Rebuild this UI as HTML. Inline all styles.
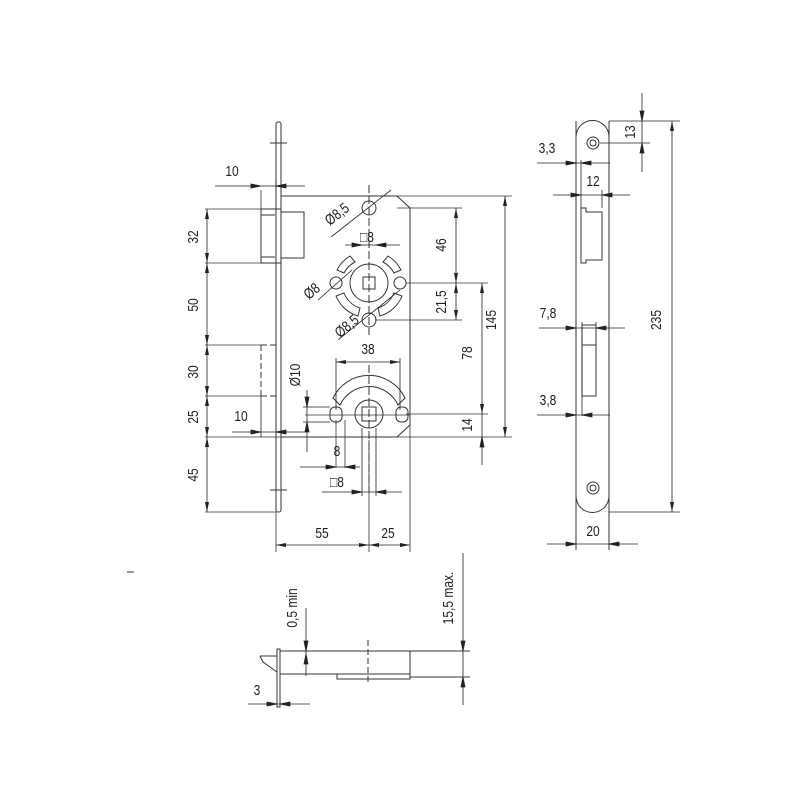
<!DOCTYPE html>
<html><head><meta charset="utf-8"><style>
html,body{margin:0;padding:0;background:#fff;}
svg{display:block}
text{font-family:"Liberation Sans",sans-serif;font-size:15px;fill:#222}
</style></head><body>
<svg width="800" height="800" viewBox="0 0 800 800" xmlns="http://www.w3.org/2000/svg">
<defs>
<marker id="a" viewBox="0 0 10 6" refX="10" refY="3" markerWidth="10" markerHeight="6" orient="auto-start-reverse" markerUnits="userSpaceOnUse"><path d="M0,1 L10,3 L0,5 Z" fill="#222"/></marker>
</defs>
<g stroke="#333" stroke-width="1" fill="none">
<rect x="276" y="122" width="5" height="390" rx="2"/>
<line x1="270" y1="143" x2="287" y2="143"/><line x1="270" y1="490" x2="287" y2="490"/>
<path d="M281,196 H397 L410,208 V425 L397,437 H281"/>
<rect x="261" y="209" width="20" height="54"/>
<rect x="281" y="212" width="23" height="46"/>
<line x1="261" y1="215" x2="275" y2="215"/><line x1="261" y1="257" x2="275" y2="257"/>
<path d="M261,345 V396 M261,345 H276 M261,396 H276" stroke-dasharray="6,3"/>
<line x1="276" y1="345" x2="276" y2="396"/>
<circle cx="369" cy="283" r="19"/>
<rect x="363" y="277" width="12" height="12"/>
<circle cx="336" cy="283" r="6"/><circle cx="400" cy="283" r="6"/>
<circle cx="369" cy="320" r="7"/><circle cx="369" cy="208" r="7"/>
<path d="M337,270 A34,34 0 0 1 350,256 L355,262 A26,26 0 0 0 344,273 Z"/>
<path d="M401,270 A34,34 0 0 0 388,256 L383,262 A26,26 0 0 1 394,273 Z"/>
<path d="M336,296 A34,34 0 0 0 358,316 L360,308 A26,26 0 0 1 344,293 Z"/>
<path d="M402,296 A34,34 0 0 1 380,316 L378,308 A26,26 0 0 0 394,293 Z"/>
<line x1="369" y1="185" x2="369" y2="335" stroke-dasharray="8,3"/>
<circle cx="369" cy="414" r="14"/>
<rect x="362" y="407" width="14" height="14"/>
<rect x="330" y="407" width="12" height="15" rx="5"/><rect x="396" y="407" width="12" height="15" rx="5"/>
<path d="M333,398 A40,40 0 0 1 405,398 L398,405 A32,32 0 0 0 340,405 Z"/>
<line x1="369" y1="365" x2="369" y2="492" stroke-dasharray="8,3"/>
<path d="M576,137 A16,16 0 0 1 609,137 V496 A16,16 0 0 1 576,496 Z"/>
<line x1="576" y1="121" x2="576" y2="550"/><line x1="609" y1="121" x2="609" y2="550"/>
<circle cx="593" cy="143" r="6"/><circle cx="593" cy="143" r="3"/>
<circle cx="593" cy="488" r="6"/><circle cx="593" cy="488" r="3"/>
<path d="M581,208 H586 V212 H602 V260 H586 V263 H581 Z"/>
<rect x="582" y="325" width="14" height="71"/><line x1="582" y1="345" x2="596" y2="345"/>
<rect x="277" y="649" width="3" height="58"/>
<rect x="280" y="651" width="130" height="23"/>
<path d="M337,674 V679 H410 V674"/>
<path d="M260,656 H277 M260,656 L263,662 L277,672"/>
<line x1="368" y1="640" x2="368" y2="682" stroke-dasharray="6,3"/>
<path d="M410,651 H470 M410,677 H470"/>
<line x1="127" y1="572" x2="134" y2="572"/>
</g>
<g stroke="#333" stroke-width="0.8" fill="none">
<path d="M205,209 H261 M205,263 H276 M205,345 H261 M205,396 H261 M205,437 H281 M205,512 H276"/>
<path d="M261,190 V209 M281,190 V196"/>
<path d="M281,196 H512 M397,208 H462 M397,437 H512 M406,414 H488 M406,283 H488 M375,320 H462"/>
<path d="M276,512 V552 M369,440 V552 M410,425 V552"/>
<path d="M305,415 H410" />
<path d="M336,420 V468 M345,420 V468"/>
</g>
<g stroke="#222" stroke-width="0.8" fill="none" marker-start="url(#a)" marker-end="url(#a)">
<line x1="207" y1="209" x2="207" y2="263"/>
<line x1="207" y1="263" x2="207" y2="345"/>
<line x1="207" y1="345" x2="207" y2="396"/>
<line x1="207" y1="396" x2="207" y2="437"/>
<line x1="207" y1="437" x2="207" y2="512"/>
<line x1="456" y1="208" x2="456" y2="283"/>
<line x1="456" y1="283" x2="456" y2="320"/>
<line x1="482" y1="283" x2="482" y2="414"/>
<line x1="505" y1="196" x2="505" y2="437"/>
<line x1="276" y1="545" x2="369" y2="545"/>
<line x1="369" y1="545" x2="410" y2="545"/>
<line x1="336" y1="362" x2="400" y2="362"/>
<line x1="672" y1="121" x2="672" y2="512"/>
</g>
<g stroke="#222" stroke-width="0.8" fill="none">
<line x1="482" y1="414" x2="482" y2="465"/><path d="M482,437 l-2,10 h4 z" fill="#222"/>
<line x1="336" y1="358" x2="336" y2="410"/><line x1="400" y1="358" x2="400" y2="410"/>
<path d="M215,186 H305" /><path d="M261,186 l-10,-2 v4z M276,186 l10,-2 v4z" fill="#222"/>
<line x1="276" y1="180" x2="276" y2="190"/>
<path d="M232,432 H305"/><path d="M261,432 l-10,-2 v4z M276,432 l10,-2 v4z" fill="#222"/>
<line x1="261" y1="396" x2="261" y2="437"/>
<path d="M307,390 V452"/><path d="M307,407 l-2,-10 h4z M307,422 l-2,10 h4z" fill="#222"/>
<path d="M303,407 H330 M303,422 H330"/>
<path d="M300,467 H360"/><path d="M336,467 l-10,-2 v4z M345,467 l10,-2 v4z" fill="#222"/>
<path d="M322,492 H402"/><path d="M362,492 l-10,-2 v4z M376,492 l10,-2 v4z" fill="#222"/>
<path d="M362,428 V496 M376,428 V496"/>
<path d="M345,245 H400"/><path d="M362,245 l-10,-2 v4z M376,245 l10,-2 v4z" fill="#222"/>
<path d="M331,237 L391,190"/><path d="M318,300 L352,270"/><path d="M338,340 L400,290"/>
<path d="M537,163 H610"/><path d="M576,163 l-10,-2 v4z M581,163 l10,-2 v4z" fill="#222"/>
<path d="M553,195 H630"/><path d="M581,195 l-10,-2 v4z M602,195 l10,-2 v4z" fill="#222"/>
<line x1="602" y1="190" x2="602" y2="208"/><line x1="581" y1="160" x2="581" y2="208"/>
<path d="M539,328 H625"/><path d="M576,328 l-10,-2 v4z M596,328 l10,-2 v4z" fill="#222"/>
<line x1="596" y1="322" x2="596" y2="325"/><line x1="582" y1="322" x2="582" y2="416"/>
<path d="M537,415 H610"/><path d="M576,415 l-10,-2 v4z M582,415 l10,-2 v4z" fill="#222"/>
<path d="M547,544 H638"/><path d="M576,544 l-10,-2 v4z M609,544 l10,-2 v4z" fill="#222"/>
<path d="M642,93 V172 M600,143 H650 M609,121 H680 M609,512 H680"/>
<path d="M642,121 l-2,-10 h4z M642,143 l-2,10 h4z" fill="#222"/>
<path d="M306,608 V676"/><path d="M306,651 l-2,-10 h4z M306,654 l-2,10 h4z" fill="#222"/>
<path d="M463,553 V705"/><path d="M463,651 l-2,-10 h4z M463,677 l-2,10 h4z" fill="#222"/>
<path d="M248,704 H310"/><path d="M277,704 l-10,-2 v4z M280,704 l10,-2 v4z" fill="#222"/>
</g>
<g text-anchor="middle">
<text transform="translate(232,176) scale(0.8,1)">10</text>
<text transform="translate(241,421) scale(0.8,1)">10</text>
<text transform="translate(368,354) scale(0.8,1)">38</text>
<text transform="translate(337,456) scale(0.8,1)">8</text>
<text transform="translate(337,487) scale(0.8,1)">□8</text>
<text transform="translate(367,242) scale(0.8,1)">□8</text>
<text transform="translate(322,538) scale(0.8,1)">55</text>
<text transform="translate(388,538) scale(0.8,1)">25</text>
<text transform="translate(547,153) scale(0.8,1)">3,3</text>
<text transform="translate(593,186) scale(0.8,1)">12</text>
<text transform="translate(548,318) scale(0.8,1)">7,8</text>
<text transform="translate(548,405) scale(0.8,1)">3,8</text>
<text transform="translate(593,536) scale(0.8,1)">20</text>
<text transform="translate(257,695) scale(0.8,1)">3</text>
<text transform="translate(198,237) rotate(-90) scale(0.8,1)">32</text>
<text transform="translate(198,305) rotate(-90) scale(0.8,1)">50</text>
<text transform="translate(198,372) rotate(-90) scale(0.8,1)">30</text>
<text transform="translate(198,417) rotate(-90) scale(0.8,1)">25</text>
<text transform="translate(198,475) rotate(-90) scale(0.8,1)">45</text>
<text transform="translate(446,245) rotate(-90) scale(0.8,1)">46</text>
<text transform="translate(446,302) rotate(-90) scale(0.8,1)">21,5</text>
<text transform="translate(472,353) rotate(-90) scale(0.8,1)">78</text>
<text transform="translate(472,425) rotate(-90) scale(0.8,1)">14</text>
<text transform="translate(496,320) rotate(-90) scale(0.8,1)">145</text>
<text transform="translate(661,320) rotate(-90) scale(0.8,1)">235</text>
<text transform="translate(635,132) rotate(-90) scale(0.8,1)">13</text>
<text transform="translate(300,375) rotate(-90) scale(0.8,1)">Ø10</text>
<text transform="translate(297,608) rotate(-90) scale(0.8,1)">0,5 min</text>
<text transform="translate(453,598) rotate(-90) scale(0.8,1)">15,5 max.</text>
<text transform="translate(340,218) rotate(-38) scale(0.8,1)">Ø8,5</text>
<text transform="translate(315,295) rotate(-40) scale(0.8,1)">Ø8</text>
<text transform="translate(350,330) rotate(-40) scale(0.8,1)">Ø8,5</text>
</g>
</svg>
</body></html>
